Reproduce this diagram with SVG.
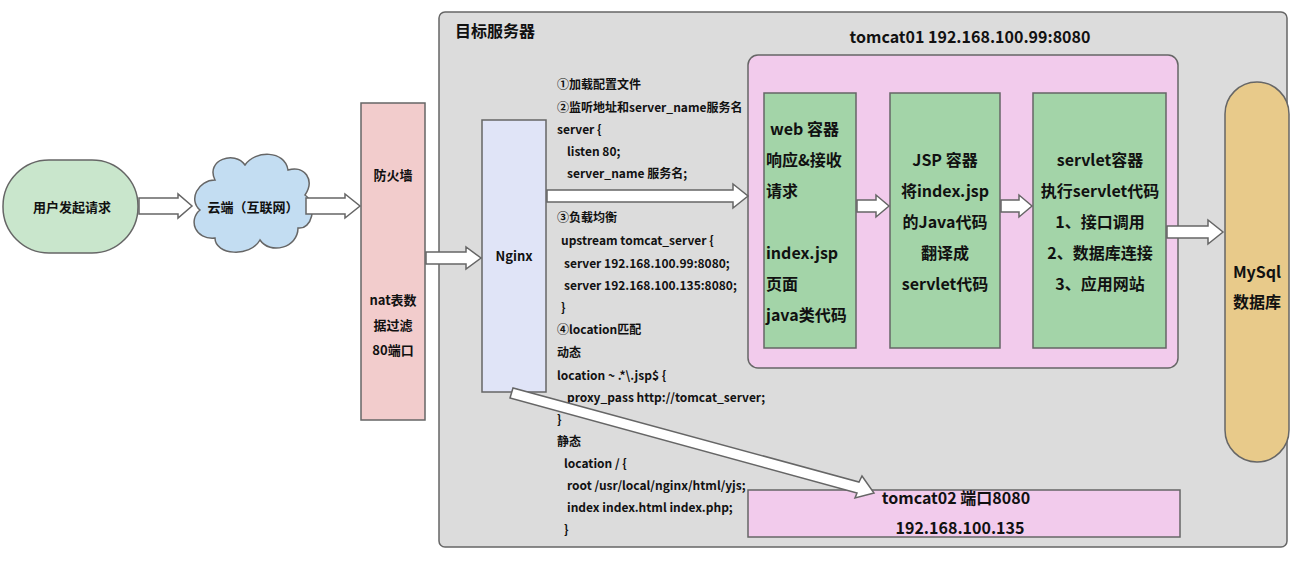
<svg xmlns="http://www.w3.org/2000/svg" width="1299" height="565" viewBox="0 0 1299 565">
<style>
text{font-family:"Microsoft YaHei","Noto Sans CJK SC",sans-serif;font-weight:bold;fill:#111}
.n{stroke:#666;stroke-width:1.5}
.c{font-size:12px}
.b{font-size:16px}
.ar{fill:#fff;stroke:#666;stroke-width:1.5}
</style>
<rect width="1299" height="565" fill="#fff"/>
<g id="server"><rect x="439" y="12" width="848" height="535" rx="6" fill="#dcdcdc" class="n"/><text x="455" y="37" font-size="16">目标服务器</text></g>
<g id="user"><rect x="3" y="160" width="135" height="93" rx="46" fill="#c9e6cc" class="n"/><text x="72" y="212" font-size="13" text-anchor="middle">用户发起请求</text></g>
<g id="cloud"><path d="M215,180 C205,160 235,150 245,165 C255,150 285,150 288,170 C305,165 315,180 305,195 C318,205 312,230 298,228 C298,248 270,255 260,240 C250,258 215,255 215,238 C195,240 188,220 200,210 C188,200 198,180 215,180 Z" fill="#c3ddf2" class="n"/><text x="253" y="212" font-size="13" text-anchor="middle">云端（互联网）</text></g>
<g id="firewall"><rect x="361" y="103" width="64" height="317" fill="#f2cccc" class="n"/><text x="393" y="180" font-size="13" text-anchor="middle">防火墙</text><text x="393" y="305" font-size="13" text-anchor="middle">nat表数</text><text x="393" y="330" font-size="13" text-anchor="middle">据过滤</text><text x="393" y="355" font-size="13" text-anchor="middle">80端口</text></g>
<g id="nginx"><rect x="482" y="120" width="64" height="272" fill="#e0e4f7" class="n"/><text x="514" y="261" font-size="13" text-anchor="middle">Nginx</text></g>
<g id="config" class="c">
<text x="557" y="89">①加载配置文件</text>
<text x="557" y="112">②监听地址和server_name服务名</text>
<text x="557" y="134">server {</text>
<text x="567" y="156">listen 80;</text>
<text x="567" y="178">server_name 服务名;</text>
<text x="557" y="200">}</text>
<text x="557" y="222">③负载均衡</text>
<text x="561" y="245">upstream tomcat_server {</text>
<text x="564" y="268">server 192.168.100.99:8080;</text>
<text x="564" y="290">server 192.168.100.135:8080;</text>
<text x="561" y="312">}</text>
<text x="557" y="334">④location匹配</text>
<text x="557" y="357">动态</text>
<text x="557" y="380">location ~ .*\.jsp$ {</text>
<text x="567" y="402">proxy_pass http://tomcat_server;</text>
<text x="557" y="424">}</text>
<text x="557" y="446">静态</text>
<text x="564" y="468">location / {</text>
<text x="567" y="490">root /usr/local/nginx/html/yjs;</text>
<text x="567" y="512">index index.html index.php;</text>
<text x="564" y="534">}</text>
</g>
<g id="tomcat01"><rect x="748" y="55" width="430" height="313" rx="10" fill="#f2cbec" class="n"/><text x="970" y="43" class="b" text-anchor="middle">tomcat01 192.168.100.99:8080</text></g>
<g id="web"><rect x="764" y="93" width="92" height="255" fill="#a3d4a8" class="n"/>
<g class="b"><text x="770" y="135">web 容器</text><text x="766" y="166">响应&amp;接收</text><text x="766" y="197">请求</text><text x="766" y="259">index.jsp</text><text x="766" y="290">页面</text><text x="766" y="321">java类代码</text></g></g>
<g id="jsp"><rect x="890" y="93" width="110" height="255" fill="#a3d4a8" class="n"/>
<g class="b" text-anchor="middle"><text x="945" y="166">JSP 容器</text><text x="945" y="197">将index.jsp</text><text x="945" y="228">的Java代码</text><text x="945" y="259">翻译成</text><text x="945" y="290">servlet代码</text></g></g>
<g id="servlet"><rect x="1033" y="93" width="133" height="255" fill="#a3d4a8" class="n"/>
<g class="b" text-anchor="middle"><text x="1100" y="166">servlet容器</text><text x="1100" y="197">执行servlet代码</text><text x="1100" y="228">1、接口调用</text><text x="1100" y="259">2、数据库连接</text><text x="1100" y="290">3、应用网站</text></g></g>
<g id="mysql"><rect x="1225" y="82" width="64" height="380" rx="32" fill="#e8ca8a" class="n"/><text x="1257" y="278" class="b" text-anchor="middle">MySql</text><text x="1257" y="308" class="b" text-anchor="middle">数据库</text></g>
<g id="tomcat02"><rect x="748" y="490" width="432" height="47" fill="#f2cbec" class="n"/><text x="956" y="504" class="b" text-anchor="middle">tomcat02 端口8080</text><text x="960" y="534" class="b" text-anchor="middle">192.168.100.135</text></g>
<g id="connectors">
<polygon class="ar" points="139,198 178,198 178,194 192,206 178,218 178,214 139,214"/>
<polygon class="ar" points="306,198 345,198 345,194 360,206 345,218 345,214 306,214"/>
<polygon class="ar" points="426,252 466,252 466,247 481,258 466,269 466,264 426,264"/>
<polygon class="ar" points="547,190 733,190 733,184 748,196 733,208 733,202 547,202"/>
<polygon class="ar" points="857,200 876,200 876,195 889,206 876,217 876,212 857,212"/>
<polygon class="ar" points="1001,200 1019,200 1019,195 1032,206 1019,217 1019,212 1001,212"/>
<polygon class="ar" points="1167,226 1208,226 1208,220 1223,232 1208,244 1208,238 1167,238"/>
<polygon class="ar" points="510,398 513,388 859,482 862,476 874,493 855,498 857,493"/>
</g>
</svg>
